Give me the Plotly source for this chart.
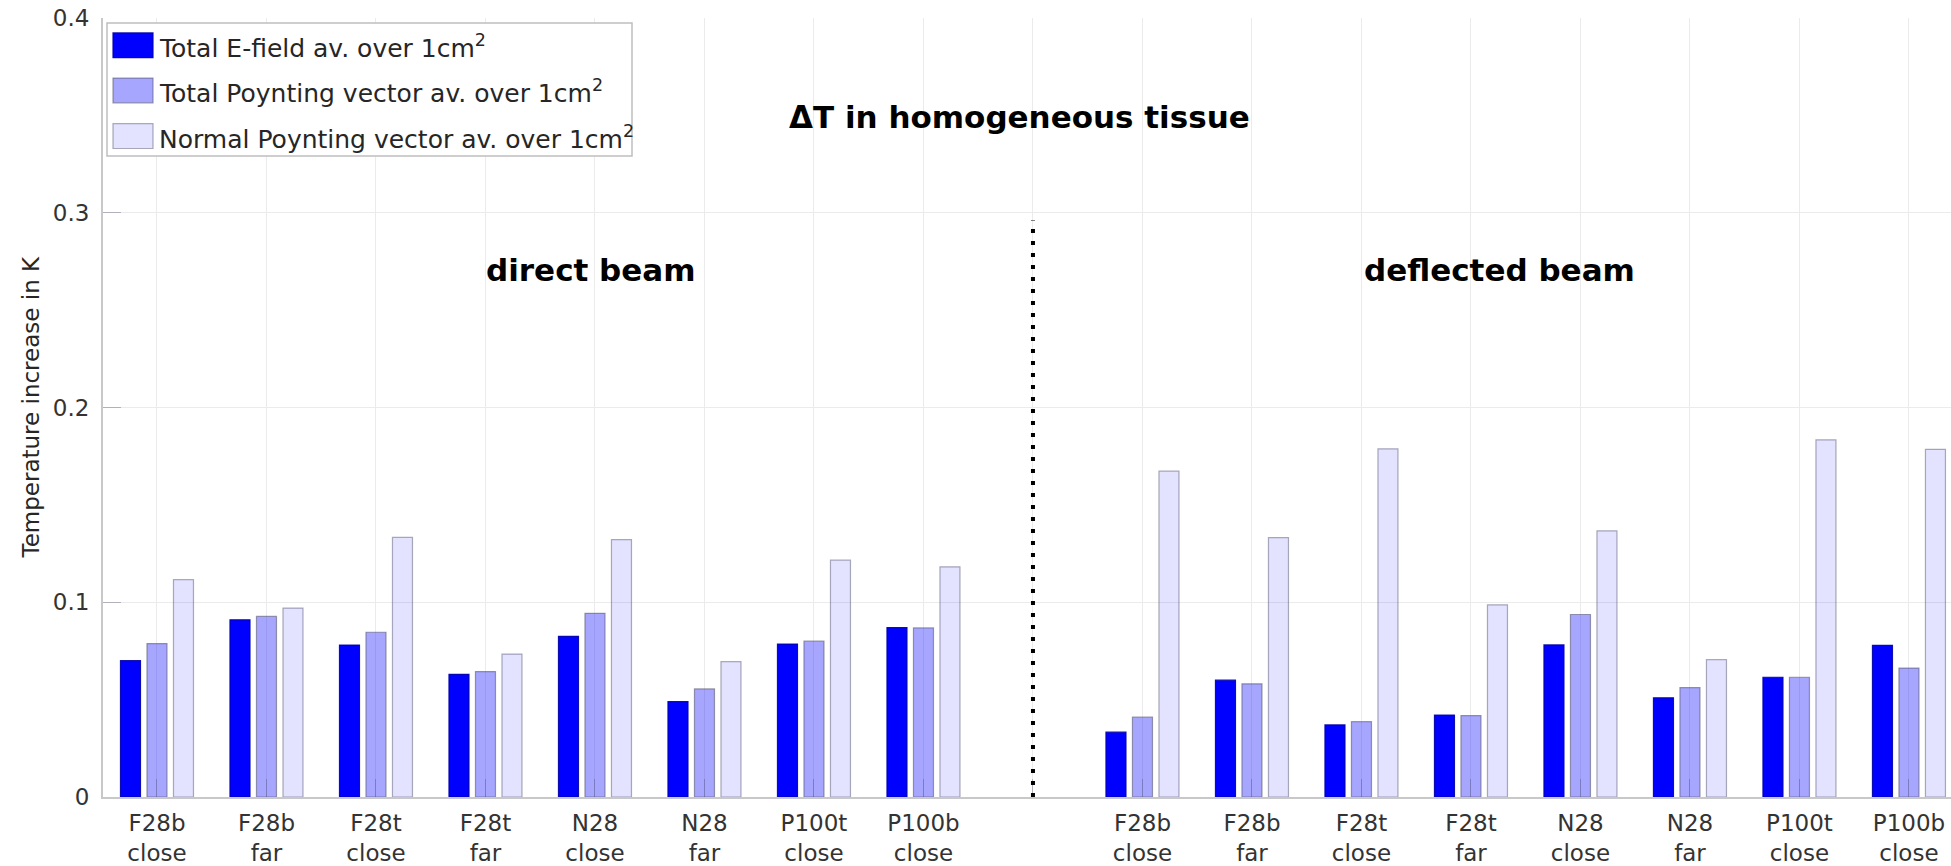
import plotly.graph_objects as go

# ---------------- data ----------------
conditions = ["F28b<br>close", "F28b<br>far", "F28t<br>close", "F28t<br>far",
              "N28<br>close", "N28<br>far", "P100t<br>close", "P100b<br>close"]

series_names = ["Total E-field av. over 1cm<sup>2</sup>",
                "Total Poynting vector av. over 1cm<sup>2</sup>",
                "Normal Poynting vector av. over 1cm<sup>2</sup>"]

# direct beam
direct_efield = [0.070, 0.091, 0.078, 0.063, 0.0825, 0.049, 0.0785, 0.087]
direct_poynt_total = [0.0788, 0.0927, 0.0846, 0.0644, 0.0943, 0.0555, 0.080, 0.0868]
direct_poynt_normal = [0.1116, 0.097, 0.1333, 0.0734, 0.1322, 0.0695, 0.1216, 0.1182]

# deflected beam
defl_efield = [0.0333, 0.060, 0.037, 0.0421, 0.0781, 0.0509, 0.0615, 0.0779]
defl_poynt_total = [0.041, 0.0581, 0.0387, 0.0418, 0.0937, 0.0562, 0.0615, 0.0662]
defl_poynt_normal = [0.1673, 0.1332, 0.1788, 0.0987, 0.1367, 0.0705, 0.1834, 0.1785]

title_text = "ΔT in homogeneous tissue"
group_labels = ["direct beam", "deflected beam"]
y_title = "Temperature increase in K"

# ---------------- build positions ----------------
n = len(conditions)
divider_pos = n                      # empty slot between the two beam groups
x_direct = list(range(n))
x_defl = [divider_pos + 1 + i for i in range(n)]
x_all = x_direct + x_defl
tick_vals = x_direct + [divider_pos] + x_defl
tick_text = conditions + [" "] + conditions

vals = [direct_efield + defl_efield,
        direct_poynt_total + defl_poynt_total,
        direct_poynt_normal + defl_poynt_normal]

fills = ["rgb(0,0,255)", "rgba(0,0,255,0.35)", "rgba(0,0,255,0.11)"]
edges = ["rgba(0,0,170,0.9)", "rgba(90,90,120,0.6)", "rgba(90,90,120,0.5)"]

FONT = "DejaVu Sans"
W, H = 1951, 866
ML, MR, MT, MB = 103, 0, 18, 63

fig = go.Figure()
for name, v, fc, ec in zip(series_names, vals, fills, edges):
    fig.add_trace(go.Bar(x=x_all, y=v, name=name, marker=dict(color=fc, line=dict(color=ec, width=1.2)),
                         showlegend=False))

# pixel helpers (for the legend box only)
def pxx(px):
    return (px - ML) / (W - ML - MR)

def pyy(py):
    return (H - MB - py) / (H - MT - MB)

# custom legend with large swatches
shapes = [dict(type="rect", xref="paper", yref="paper", x0=pxx(107), x1=pxx(632), y0=pyy(157), y1=pyy(23),
               line=dict(color="rgb(190,190,190)", width=1.5), fillcolor="white", layer="above")]
annotations = []
row_centers = [45.5, 91, 137]
for name, fc, ec, rc in zip(series_names, fills, edges, row_centers):
    shapes.append(dict(type="rect", xref="paper", yref="paper", x0=pxx(113), x1=pxx(153),
                       y0=pyy(rc + 12.5), y1=pyy(rc - 12.5), fillcolor=fc,
                       line=dict(color=ec, width=1.2), layer="above"))
    annotations.append(dict(xref="paper", yref="paper", x=pxx(157), y=pyy(rc + 1), text=name,
                            showarrow=False, xanchor="left", yanchor="middle",
                            font=dict(family=FONT, size=25, color="#262626")))

# divider
shapes.append(dict(type="line", xref="x", yref="y", x0=divider_pos, x1=divider_pos, y0=0, y1=0.296,
                   line=dict(color="black", width=4, dash="4px,8px"), layer="above"))

# titles
annotations.append(dict(xref="x", yref="y", x=7.88, y=0.349, text=title_text, showarrow=False,
                        xanchor="center", yanchor="middle",
                        font=dict(family=FONT, size=31, color="black", weight="bold")))
annotations.append(dict(xref="x", yref="y", x=3.96, y=0.2705, text=group_labels[0], showarrow=False,
                        xanchor="center", yanchor="middle",
                        font=dict(family=FONT, size=31, color="black", weight="bold")))
annotations.append(dict(xref="x", yref="y", x=12.26, y=0.2705, text=group_labels[1], showarrow=False,
                        xanchor="center", yanchor="middle",
                        font=dict(family=FONT, size=31, color="black", weight="bold")))
annotations.append(dict(xref="paper", yref="paper", x=pxx(30), y=0.5, text=y_title, showarrow=False,
                        textangle=-90, xanchor="center", yanchor="middle",
                        font=dict(family=FONT, size=23, color="#262626")))

fig.update_layout(
    width=W, height=H,
    margin=dict(l=ML, r=MR, t=MT, b=MB, pad=0),
    paper_bgcolor="white", plot_bgcolor="white",
    barmode="group", bargap=0.274, bargroupgap=0.245,
    shapes=shapes, annotations=annotations,
    showlegend=False,
    font=dict(family=FONT, size=23, color="#262626"),
)
fig.update_xaxes(
    range=[-0.493, 16.384], tickmode="array", tickvals=tick_vals, ticktext=tick_text,
    showgrid=True, gridcolor="rgb(235,235,235)", gridwidth=1,
    showline=True, linecolor="rgb(200,200,200)", linewidth=2,
    ticks="inside", ticklen=18, tickcolor="rgba(70,70,100,0.35)", tickwidth=1,
    tickfont=dict(family=FONT, size=23, color="#333333"), ticklabelstandoff=4,
    zeroline=False, fixedrange=True,
)
fig.update_yaxes(
    range=[0, 0.4], tickvals=[0, 0.1, 0.2, 0.3, 0.4], ticktext=["0", "0.1", "0.2", "0.3", "0.4"],
    showgrid=True, gridcolor="rgb(235,235,235)", gridwidth=1,
    showline=True, linecolor="rgb(200,200,200)", linewidth=2,
    ticks="inside", ticklen=18, tickcolor="rgba(70,70,100,0.35)", tickwidth=1,
    tickfont=dict(family=FONT, size=23, color="#333333"), ticklabelstandoff=7,
    zeroline=False, fixedrange=True,
)

fig.write_html("out.html", config={"displayModeBar": False})
